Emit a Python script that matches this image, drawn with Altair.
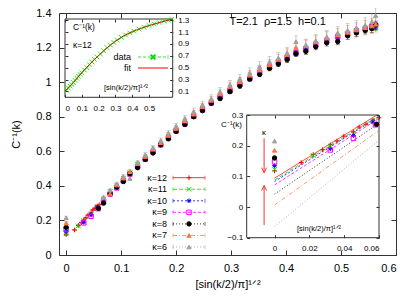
import altair as alt
import pandas as pd

# ---------------- values ----------------
KAPPA_LABELS = ["κ=12", "κ=11", "κ=10", "κ=9", "κ=8", "κ=7", "κ=6"]

# C^-1 at x = 0 for each kappa, with error
Y_AT_ZERO = [0.118, 0.123, 0.135, 0.147, 0.160, 0.185, 0.215]
ERR_AT_ZERO = [0.004, 0.004, 0.004, 0.005, 0.006, 0.008, 0.010]

# extra points at small x (visible in the lower-right inset)
SMALL_X_K12 = [0.0153, 0.0222, 0.0276, 0.0320, 0.0359, 0.0398, 0.0453, 0.0486, 0.0525, 0.0565, 0.0600]
SMALL_Y_K12 = [0.145, 0.171, 0.187, 0.203, 0.215, 0.231, 0.245, 0.261, 0.270, 0.283, 0.291]
SMALL_X_K11 = [0.0222, 0.0320, 0.0453, 0.0565]
SMALL_Y_K11 = [0.168, 0.199, 0.238, 0.280]
SMALL_X_K10 = [0.0320, 0.0453, 0.0565]
SMALL_Y_K10 = [0.190, 0.233, 0.277]
SMALL_X_K9 = [0.0320, 0.0453, 0.0580]
SMALL_Y_K9 = [0.186, 0.224, 0.268]
SMALL_X_K8 = [0.0586]
SMALL_Y_K8 = [0.270]
SMALL_X_K7 = []
SMALL_Y_K7 = []
SMALL_X_K6 = []
SMALL_Y_K6 = []
SMALL_ERR = 0.003

# common momentum grid for the rest of the curve
X_GRID = [0.068, 0.080, 0.092, 0.104, 0.116, 0.130, 0.144, 0.158, 0.172, 0.186, 0.200,
          0.216, 0.232, 0.248, 0.264, 0.280, 0.298, 0.316, 0.334, 0.352, 0.370, 0.386,
          0.402, 0.418, 0.436, 0.454, 0.474, 0.494, 0.512, 0.528, 0.544, 0.556, 0.563]
Y_K12 = [0.327, 0.366, 0.402, 0.441, 0.480, 0.521, 0.563, 0.604, 0.645, 0.684, 0.724,
         0.766, 0.808, 0.846, 0.884, 0.918, 0.955, 0.990, 1.025, 1.057, 1.089, 1.116,
         1.144, 1.168, 1.193, 1.218, 1.241, 1.262, 1.279, 1.295, 1.307, 1.318, 1.324]
Y_K11 = [0.324, 0.367, 0.399, 0.443, 0.477, 0.523, 0.560, 0.606, 0.641, 0.686, 0.720,
         0.768, 0.804, 0.848, 0.880, 0.920, 0.951, 0.992, 1.021, 1.059, 1.085, 1.118,
         1.140, 1.169, 1.190, 1.219, 1.238, 1.263, 1.276, 1.297, 1.304, 1.320, 1.318]
Y_K10 = [0.320, 0.361, 0.396, 0.436, 0.474, 0.517, 0.558, 0.600, 0.640, 0.680, 0.719,
         0.762, 0.803, 0.842, 0.880, 0.914, 0.951, 0.987, 1.020, 1.054, 1.085, 1.113,
         1.140, 1.164, 1.190, 1.214, 1.238, 1.258, 1.276, 1.292, 1.305, 1.314, 1.320]
Y_K9 = [0.310, 0.352, 0.388, 0.430, 0.468, 0.512, 0.554, 0.597, 0.637, 0.678, 0.718,
        0.760, 0.802, 0.842, 0.880, 0.915, 0.952, 0.988, 1.022, 1.056, 1.088, 1.116,
        1.143, 1.168, 1.194, 1.219, 1.242, 1.263, 1.281, 1.296, 1.310, 1.320, 1.328]
Y_K8 = [0.300, 0.355, 0.392, 0.425, 0.470, 0.505, 0.553, 0.590, 0.638, 0.672, 0.715,
        0.755, 0.800, 0.835, 0.878, 0.905, 0.945, 0.978, 1.018, 1.045, 1.080, 1.105,
        1.130, 1.165, 1.178, 1.205, 1.228, 1.235, 1.268, 1.285, 1.300, 1.310, 1.330]
Y_K7 = [0.330, 0.353, 0.405, 0.445, 0.482, 0.528, 0.570, 0.612, 0.650, 0.692, 0.732,
        0.775, 0.815, 0.857, 0.895, 0.932, 0.975, 1.002, 1.040, 1.070, 1.100, 1.132,
        1.160, 1.200, 1.210, 1.232, 1.255, 1.272, 1.288, 1.302, 1.315, 1.325, 1.335]
Y_K6 = [0.335, 0.375, 0.412, 0.455, 0.443, 0.535, 0.580, 0.620, 0.662, 0.705, 0.745,
        0.790, 0.830, 0.870, 0.905, 0.945, 0.985, 1.020, 1.055, 1.090, 1.118, 1.140,
        1.170, 1.234, 1.215, 1.240, 1.262, 1.285, 1.300, 1.315, 1.330, 1.350, 1.385]

ERR_SMALL = [0.003, 0.003, 0.004, 0.003, 0.004, 0.004, 0.005, 0.004, 0.005, 0.006, 0.005,
             0.006, 0.007, 0.006, 0.007, 0.008, 0.008, 0.009, 0.008, 0.010, 0.010, 0.011,
             0.010, 0.012, 0.012, 0.013, 0.012, 0.014, 0.014, 0.015, 0.016, 0.016, 0.018]
ERR_MID = [0.004, 0.005, 0.005, 0.006, 0.005, 0.006, 0.007, 0.007, 0.008, 0.008, 0.009,
           0.009, 0.010, 0.010, 0.011, 0.012, 0.012, 0.013, 0.013, 0.014, 0.015, 0.015,
           0.016, 0.017, 0.017, 0.018, 0.019, 0.019, 0.020, 0.021, 0.021, 0.022, 0.023]
ERR_LARGE = [0.006, 0.007, 0.009, 0.009, 0.011, 0.012, 0.012, 0.014, 0.015, 0.016, 0.017,
             0.018, 0.020, 0.020, 0.022, 0.023, 0.025, 0.025, 0.027, 0.028, 0.030, 0.030,
             0.032, 0.034, 0.034, 0.036, 0.037, 0.038, 0.040, 0.041, 0.042, 0.044, 0.045]

# linear fits shown in the lower-right inset (start at x=0, end near x=0.06)
FIT_X_START = [0.0, 0.0, 0.0, 0.0, 0.0, 0.0, 0.0]
FIT_Y_START = [0.094, 0.088, 0.083, 0.072, 0.042, 0.0065, -0.064]
FIT_X_END = [0.0588, 0.0600, 0.0600, 0.0600, 0.0600, 0.0600, 0.0600]
FIT_Y_END = [0.300, 0.298, 0.295, 0.289, 0.273, 0.250, 0.218]

# upper-left inset: kappa = 12 data and fit
INSET_X = [0.008, 0.020, 0.030, 0.040, 0.050, 0.060, 0.070, 0.080, 0.090, 0.100, 0.115,
           0.130, 0.145, 0.160, 0.175, 0.190, 0.210, 0.230, 0.250, 0.270, 0.290, 0.310,
           0.335, 0.360, 0.385, 0.410, 0.440, 0.470, 0.500, 0.530, 0.560, 0.590, 0.615, 0.635]
INSET_Y = [0.117, 0.155, 0.188, 0.218, 0.250, 0.285, 0.320, 0.355, 0.385, 0.415, 0.460,
           0.500, 0.550, 0.595, 0.640, 0.680, 0.730, 0.785, 0.835, 0.880, 0.925, 0.965,
           1.010, 1.050, 1.085, 1.115, 1.150, 1.180, 1.210, 1.235, 1.260, 1.285, 1.300, 1.315]
INSET_FIT_X = [0.0, 0.05, 0.10, 0.15, 0.20, 0.25, 0.30, 0.35, 0.40, 0.45, 0.50, 0.55, 0.60, 0.64]
INSET_FIT_Y = [0.110, 0.250, 0.415, 0.565, 0.705, 0.835, 0.945, 1.035, 1.105, 1.160, 1.210,
               1.250, 1.290, 1.320]

# arrows in the lower-right inset
ARROW_X = [-0.006, -0.006]
ARROW_FROM = [0.224, -0.059]
ARROW_TO = [0.112, 0.070]

# tick values
MAIN_XTICKS = [0, 0.1, 0.2, 0.3, 0.4, 0.5, 0.6]
MAIN_YTICKS = [0, 0.2, 0.4, 0.6, 0.8, 1.0, 1.2, 1.4]
IN1_XTICKS = [0, 0.1, 0.2, 0.3, 0.4, 0.5]
IN1_YTICKS = [0.1, 0.3, 0.5, 0.7, 0.9, 1.1, 1.3]
IN2_XTICKS = [0, 0.02, 0.04, 0.06]
IN2_YTICKS = [-0.1, 0, 0.1, 0.2, 0.3]

LEGEND_NAMES = ["data", "fit"]
NOTE_TEXT = "T=2.1\u00a0\u00a0ρ=1.5\u00a0\u00a0h=0.1"

# ---------------- layout / style ----------------
W, H = 337, 242
MAIN_XDOM, MAIN_YDOM = [-0.013, 0.6], [0, 1.4]
IN1_XDOM, IN1_YDOM = [0, 0.64], [0, 1.32]
IN1_XR, IN1_YR = [6, 113.7], [84.3, 6]
IN2_XDOM, IN2_YDOM = [-0.016, 0.06], [-0.1, 0.3]
IN2_XR, IN2_YR = [187.7, 320], [224.7, 102]
LEG_XR, LEG_YR = [114, 146], [164.7, 234]
L1_XR, L1_YR = [79, 109], [44, 55]

PLUS = "M-1,0L1,0M0,-1L0,1"
CROSS = "M-1,-1L1,1M-1,1L1,-1"
STAR = "M-1,0L1,0M0,-1L0,1M-0.7,-0.7L0.7,0.7M-0.7,0.7L0.7,-0.7"
HEAD_DOWN = "M-0.5,-1L0,0L0.5,-1"
HEAD_UP = "M-0.5,1L0,0L0.5,1"

COLORS = ["#ff0000", "#00dd00", "#0000ff", "#ff00ff", "#000000", "#ff7a3c", "#a0a0a0"]
FILLS = ["transparent", "transparent", "transparent", "transparent", "#000000", "#ff7a3c", "#a0a0a0"]
SHAPES = [PLUS, CROSS, STAR, "square", "circle", "triangle-up", "triangle-up"]
SIZES = [22, 18, 22, 22, 26, 14, 11]
DASHES = [[1, 0], [4, 2], [2, 2], [3, 2], [1, 2], [4, 2, 1, 2], [1, 2]]
FONT = "Liberation Sans"
XTITLE = "[sin(k/2)/π]¹ᐟ²"

# ---------------- tables ----------------
series_small_x = [SMALL_X_K12, SMALL_X_K11, SMALL_X_K10, SMALL_X_K9, SMALL_X_K8, SMALL_X_K7, SMALL_X_K6]
series_small_y = [SMALL_Y_K12, SMALL_Y_K11, SMALL_Y_K10, SMALL_Y_K9, SMALL_Y_K8, SMALL_Y_K7, SMALL_Y_K6]
series_y = [Y_K12, Y_K11, Y_K10, Y_K9, Y_K8, Y_K7, Y_K6]
series_err = [ERR_SMALL, ERR_SMALL, ERR_SMALL, ERR_SMALL, ERR_MID, ERR_LARGE, ERR_LARGE]

rows = []
for i, lab in enumerate(KAPPA_LABELS):
    rows.append((lab, 0.0, Y_AT_ZERO[i], ERR_AT_ZERO[i]))
    for x, y in zip(series_small_x[i], series_small_y[i]):
        rows.append((lab, x, y, SMALL_ERR))
    for x, y, e in zip(X_GRID, series_y[i], series_err[i]):
        rows.append((lab, x, y, e))
df = pd.DataFrame(rows, columns=["label", "x", "y", "e"])
df["lo"] = df["y"] - df["e"]
df["hi"] = df["y"] + df["e"]
df_small = df[df["x"] <= 0.0605]

fit_rows = []
for i, lab in enumerate(KAPPA_LABELS):
    fit_rows.append((lab, FIT_X_START[i], FIT_Y_START[i]))
    fit_rows.append((lab, FIT_X_END[i], FIT_Y_END[i]))
df_fit = pd.DataFrame(fit_rows, columns=["label", "x", "y"])

df_in = pd.DataFrame({"x": INSET_X, "y": INSET_Y})
df_infit = pd.DataFrame({"x": INSET_FIT_X, "y": INSET_FIT_Y})
df_arrow = pd.DataFrame({"x": ARROW_X, "y0": ARROW_FROM, "y1": ARROW_TO})
df_leg = pd.DataFrame({"label": KAPPA_LABELS, "x0": 0.0, "x1": 1.0, "xm": 0.5})
df_l1 = pd.DataFrame({"name": LEGEND_NAMES, "x0": 0.0, "x1": 1.0, "xm": 0.5})


def sc(dom, rng=None, **kw):
    if rng is None:
        return alt.Scale(domain=dom, nice=False, zero=False, **kw)
    return alt.Scale(domain=dom, range=rng, nice=False, zero=False, **kw)


def XQ(field, dom, rng=None, axis=None):
    return alt.X(field, type="quantitative", scale=sc(dom, rng), axis=axis)


def YQ(field, dom, rng=None, axis=None):
    return alt.Y(field, type="quantitative", scale=sc(dom, rng), axis=axis)


color_k = alt.Color("label:N", scale=alt.Scale(domain=KAPPA_LABELS, range=COLORS), legend=None)
stroke_k = alt.Stroke("label:N", scale=alt.Scale(domain=KAPPA_LABELS, range=COLORS), legend=None)
fill_k = alt.Fill("label:N", scale=alt.Scale(domain=KAPPA_LABELS, range=FILLS), legend=None)
shape_k = alt.Shape("label:N", scale=alt.Scale(domain=KAPPA_LABELS, range=SHAPES), legend=None)
size_k = alt.Size("label:O", scale=alt.Scale(domain=KAPPA_LABELS, range=SIZES), legend=None)
dash_k = alt.StrokeDash("label:N", scale=alt.Scale(domain=KAPPA_LABELS, range=DASHES), legend=None)

layers = []

# ---- main data ----
mx = lambda f: XQ(f, MAIN_XDOM)
my = lambda f: YQ(f, MAIN_YDOM)
layers.append(alt.Chart(df).mark_rule(strokeWidth=0.6).encode(x=mx("x"), y=my("lo"), y2="hi", color=color_k))
layers.append(alt.Chart(df).mark_tick(orient="horizontal", size=4, thickness=0.6).encode(x=mx("x"), y=my("lo"), color=color_k))
layers.append(alt.Chart(df).mark_tick(orient="horizontal", size=4, thickness=0.6).encode(x=mx("x"), y=my("hi"), color=color_k))
layers.append(alt.Chart(df).mark_point(filled=False, strokeWidth=1, opacity=1).encode(
    x=mx("x"), y=my("y"), stroke=stroke_k, fill=fill_k, shape=shape_k, size=size_k))

# ---- main axes ----
def axis_layer(xdom, ydom, xr, yr, xaxis, yaxis):
    d = pd.DataFrame({"x": [xdom[0]], "y": [ydom[0]]})
    return alt.Chart(d).mark_point(opacity=0).encode(x=XQ("x", xdom, xr, xaxis), y=YQ("y", ydom, yr, yaxis))

tick_common = dict(labels=False, domain=False, grid=False, title=None, tickColor="#333", tickWidth=1)
layers.append(axis_layer(MAIN_XDOM, MAIN_YDOM, None, None,
    alt.Axis(orient="bottom", values=MAIN_XTICKS, format="~g", ticks=False, domain=False, grid=False,
             labelFontSize=11, labelPadding=7, title=XTITLE, titleFontSize=11, titleFontWeight="normal",
             titlePadding=5, labelFont=FONT, titleFont=FONT),
    alt.Axis(orient="left", values=MAIN_YTICKS, format="~g", ticks=False, domain=False, grid=False,
             labelFontSize=11, labelPadding=8, title="C⁻¹(k)", titleFontSize=11, titleFontWeight="normal",
             titlePadding=14, labelFont=FONT, titleFont=FONT)))
layers.append(axis_layer(MAIN_XDOM, MAIN_YDOM, None, None,
    alt.Axis(orient="top", offset=-H, values=MAIN_XTICKS, tickSize=5, **tick_common),
    alt.Axis(orient="right", offset=-W, values=MAIN_YTICKS, tickSize=5, **tick_common)))
layers.append(axis_layer(MAIN_XDOM, MAIN_YDOM, None, None,
    alt.Axis(orient="bottom", offset=-H, values=MAIN_XTICKS, tickSize=5, **tick_common),
    alt.Axis(orient="left", offset=-W, values=MAIN_YTICKS, tickSize=5, **tick_common)))

# annotation placed through the main scales
note_df = pd.DataFrame({"t": [NOTE_TEXT]})
layers.append(alt.Chart(note_df).mark_text(align="left", baseline="middle", fontSize=11, font=FONT, color="black").encode(
    x=alt.XDatum(0.297, type="quantitative", scale=sc(MAIN_XDOM), axis=None),
    y=alt.YDatum(1.35, type="quantitative", scale=sc(MAIN_YDOM), axis=None),
    text="t:N"))

# ---- inset 1 (upper left) ----
box1 = pd.DataFrame({"x0": [IN1_XDOM[0]], "x1": [IN1_XDOM[1]], "y0": [IN1_YDOM[0]], "y1": [IN1_YDOM[1]]})
layers.append(alt.Chart(box1).mark_rect(fill="white", stroke="#333", strokeWidth=1).encode(
    x=XQ("x0", IN1_XDOM, IN1_XR), x2="x1", y=YQ("y0", IN1_YDOM, IN1_YR), y2="y1"))
layers.append(alt.Chart(df_in).mark_line(color="#00dd00", strokeWidth=0.8, strokeDash=[3, 2]).encode(
    x=XQ("x", IN1_XDOM, IN1_XR), y=YQ("y", IN1_YDOM, IN1_YR)))
layers.append(alt.Chart(df_in).mark_point(shape=CROSS, size=22, filled=False, color="#22ee22", strokeWidth=1, opacity=1).encode(
    x=XQ("x", IN1_XDOM, IN1_XR), y=YQ("y", IN1_YDOM, IN1_YR)))
layers.append(alt.Chart(df_infit).mark_line(color="#c81e00", strokeWidth=1, interpolate="monotone").encode(
    x=XQ("x", IN1_XDOM, IN1_XR), y=YQ("y", IN1_YDOM, IN1_YR)))

in_tick = dict(labels=False, domain=False, grid=False, title=None, tickColor="#333", tickSize=3, zindex=1)
layers.append(axis_layer(IN1_XDOM, IN1_YDOM, IN1_XR, IN1_YR,
    alt.Axis(orient="bottom", offset=IN1_YR[0] - H, values=IN1_XTICKS, format="~g", ticks=False, domain=False,
             grid=False, labelFontSize=8, labelPadding=7, title=None, zindex=1, labelFont=FONT),
    alt.Axis(orient="right", offset=IN1_XR[1] - W, values=IN1_YTICKS, format="~g", ticks=False, domain=False,
             grid=False, labelFontSize=8, labelPadding=5, title=None, zindex=1, labelFont=FONT)))
layers.append(axis_layer(IN1_XDOM, IN1_YDOM, IN1_XR, IN1_YR,
    alt.Axis(orient="top", offset=-IN1_YR[0], values=IN1_XTICKS, **in_tick),
    alt.Axis(orient="right", offset=IN1_XR[0] - W, values=IN1_YTICKS, **in_tick)))
layers.append(axis_layer(IN1_XDOM, IN1_YDOM, IN1_XR, IN1_YR,
    alt.Axis(orient="bottom", offset=IN1_YR[1] - H, values=IN1_XTICKS, **in_tick),
    alt.Axis(orient="left", offset=-IN1_XR[1], values=IN1_YTICKS, **in_tick)))

# inset 1 legend (data / fit)
l1y = alt.Y("name:N", scale=alt.Scale(type="point", domain=LEGEND_NAMES, range=L1_YR, padding=0), axis=None)
l1x = lambda f: XQ(f, [0, 1], L1_XR)
d_data = df_l1[df_l1["name"] == "data"]
d_fitl = df_l1[df_l1["name"] == "fit"]
layers.append(alt.Chart(d_data).mark_rule(color="#00dd00", strokeWidth=0.8, strokeDash=[3, 2]).encode(x=l1x("x0"), x2="x1", y=l1y))
layers.append(alt.Chart(d_data).mark_tick(orient="vertical", size=4, thickness=0.8, color="#00dd00").encode(x=l1x("x1"), y=l1y))
layers.append(alt.Chart(d_data).mark_point(shape=CROSS, size=22, filled=False, color="#00dd00", opacity=1).encode(x=l1x("xm"), y=l1y))
layers.append(alt.Chart(d_fitl).mark_rule(color="#ff0000", strokeWidth=1).encode(x=l1x("x0"), x2="x1", y=l1y))
layers.append(alt.Chart(df_l1).mark_text(align="right", dx=-7, fontSize=9, font=FONT, color="black").encode(
    x=l1x("x0"), y=l1y, text="name:N"))

# ---- inset 2 (lower right) ----
box2 = pd.DataFrame({"x0": [IN2_XDOM[0]], "x1": [IN2_XDOM[1]], "y0": [IN2_YDOM[0]], "y1": [IN2_YDOM[1]]})
ix = lambda f: XQ(f, IN2_XDOM, IN2_XR)
iy = lambda f: YQ(f, IN2_YDOM, IN2_YR)
layers.append(alt.Chart(box2).mark_rect(fill="white", stroke="#333", strokeWidth=1).encode(
    x=ix("x0"), x2="x1", y=iy("y0"), y2="y1"))
layers.append(alt.Chart(df_fit).mark_line(strokeWidth=0.8).encode(x=ix("x"), y=iy("y"), color=color_k, strokeDash=dash_k))
layers.append(alt.Chart(df_small).mark_point(filled=False, strokeWidth=1, opacity=1).encode(
    x=ix("x"), y=iy("y"), stroke=stroke_k, fill=fill_k, shape=shape_k, size=size_k))
layers.append(alt.Chart(df_arrow).mark_rule(color="#ff3030", strokeWidth=1).encode(x=ix("x"), y=iy("y0"), y2="y1"))
layers.append(alt.Chart(df_arrow[df_arrow["y1"] < df_arrow["y0"]]).mark_point(
    shape=HEAD_DOWN, size=100, filled=False, color="#ff3030", strokeWidth=1, opacity=1).encode(x=ix("x"), y=iy("y1")))
layers.append(alt.Chart(df_arrow[df_arrow["y1"] > df_arrow["y0"]]).mark_point(
    shape=HEAD_UP, size=100, filled=False, color="#ff3030", strokeWidth=1, opacity=1).encode(x=ix("x"), y=iy("y1")))

layers.append(axis_layer(IN2_XDOM, IN2_YDOM, IN2_XR, IN2_YR,
    alt.Axis(orient="bottom", offset=IN2_YR[0] - H, values=IN2_XTICKS, format="~g", ticks=False, domain=False,
             grid=False, labelFontSize=8, labelPadding=7, title=None, zindex=1, labelFont=FONT),
    alt.Axis(orient="left", offset=-IN2_XR[0], values=IN2_YTICKS, format="~g", ticks=False, domain=False,
             grid=False, labelFontSize=8, labelPadding=4, title=None, zindex=1, labelFont=FONT)))
layers.append(axis_layer(IN2_XDOM, IN2_YDOM, IN2_XR, IN2_YR,
    alt.Axis(orient="top", offset=-IN2_YR[0], values=IN2_XTICKS, **in_tick),
    alt.Axis(orient="right", offset=IN2_XR[0] - W, values=IN2_YTICKS, **in_tick)))
layers.append(axis_layer(IN2_XDOM, IN2_YDOM, IN2_XR, IN2_YR,
    alt.Axis(orient="bottom", offset=IN2_YR[1] - H, values=IN2_XTICKS, **in_tick),
    alt.Axis(orient="left", offset=-IN2_XR[1], values=IN2_YTICKS, **in_tick)))

# ---- main legend ----
ly = alt.Y("label:N", scale=alt.Scale(type="point", domain=KAPPA_LABELS, range=LEG_YR, padding=0), axis=None)
lx = lambda f: XQ(f, [0, 1], LEG_XR)
layers.append(alt.Chart(df_leg).mark_rule(strokeWidth=0.8).encode(x=lx("x0"), x2="x1", y=ly, color=color_k, strokeDash=dash_k))
layers.append(alt.Chart(df_leg).mark_tick(orient="vertical", size=4, thickness=0.8).encode(x=lx("x0"), y=ly, color=color_k))
layers.append(alt.Chart(df_leg).mark_tick(orient="vertical", size=4, thickness=0.8).encode(x=lx("x1"), y=ly, color=color_k))
layers.append(alt.Chart(df_leg).mark_point(filled=False, strokeWidth=1, opacity=1).encode(
    x=lx("xm"), y=ly, stroke=stroke_k, fill=fill_k, shape=shape_k, size=size_k))
layers.append(alt.Chart(df_leg).mark_text(align="right", dx=-6, fontSize=9, font=FONT, color="black").encode(
    x=lx("x0"), y=ly, text="label:N"))

# ---- text annotations inside the insets ----
def note(txt, x, y, size, align="left"):
    d = pd.DataFrame({"t": [txt]})
    return alt.Chart(d).mark_text(align=align, baseline="middle", fontSize=size, font=FONT, color="black").encode(
        x=alt.value(x), y=alt.value(y), text="t:N")

layers.append(note("C⁻¹(k)", 14, 14, 8.5))
layers.append(note("κ=12", 14, 32, 8.5))
layers.append(note(XTITLE, 67, 75, 7.5, "center"))
layers.append(note("C⁻¹(k)", 172.5, 112, 8, "center"))
layers.append(note("κ", 205, 120, 8, "center"))
layers.append(note(XTITLE, 260, 216, 7.5, "center"))

chart = alt.layer(*layers).resolve_scale(
    x="independent", y="independent", color="independent", stroke="independent",
    fill="independent", shape="independent", strokeDash="independent", size="independent"
).properties(
    width=W, height=H,
    autosize=alt.AutoSizeParams(type="none"),
    padding={"left": 51, "top": 5, "right": 11, "bottom": 49},
).configure(font=FONT).configure_view(stroke="#333", strokeWidth=1).configure_axis(
    labelColor="black", titleColor="black", tickColor="#333")

chart.save("out.html", embed_options={"renderer": "svg", "actions": False})
